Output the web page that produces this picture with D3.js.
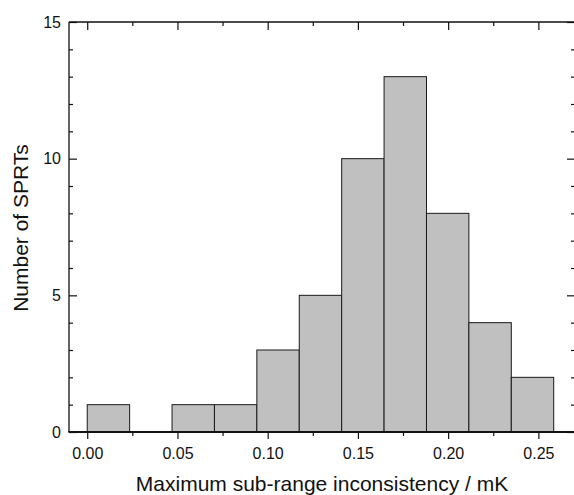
<!DOCTYPE html>
<html>
<head>
<meta charset="utf-8">
<script src="https://cdn.jsdelivr.net/npm/d3@7/dist/d3.min.js"></script>
<style>
  html, body { margin: 0; padding: 0; background: #fff; }
  svg { display: block; }
  text { font-family: Arial, "Liberation Sans", Helvetica, sans-serif; fill: #111; }
</style>
</head>
<body>
<svg id="chart" width="574" height="495"></svg>
<script>
// Data
const binStarts = [0.0000, 0.0235, 0.0470, 0.0705, 0.0940, 0.1175, 0.1410, 0.1645, 0.1880, 0.2115, 0.2350];
const binEnds   = [0.0235, 0.0470, 0.0705, 0.0940, 0.1175, 0.1410, 0.1645, 0.1880, 0.2115, 0.2350, 0.2585];
const counts    = [1, 0, 1, 1, 3, 5, 10, 13, 8, 4, 2];
const xTickValues = [0.00, 0.05, 0.10, 0.15, 0.20, 0.25];
const xMinorValues = [0.025, 0.075, 0.125, 0.175, 0.225];
const yTickValues = [0, 5, 10, 15];
const yMinorValues = [1, 2, 3, 4, 6, 7, 8, 9, 11, 12, 13, 14];
const xTitle = "Maximum sub-range inconsistency / mK";
const yTitle = "Number of SPRTs";

(function () {
const svg = d3.select("#chart");
const L = 69, R = 575, T = 22, B = 432;
const FONT = "Arial, 'Liberation Sans', Helvetica, sans-serif";

const x = d3.scaleLinear().domain([-0.0101, 0.2703]).range([L, R]);
const y = d3.scaleLinear().domain([0, 15]).range([B, T]);

// Bars
svg.append("g").selectAll("rect")
  .data(counts.map((c, i) => ({ x0: binStarts[i], x1: binEnds[i], c })).filter(d => d.c > 0))
  .join("rect")
  .attr("x", d => x(d.x0))
  .attr("width", d => x(d.x1) - x(d.x0))
  .attr("y", d => y(d.c))
  .attr("height", d => y(0) - y(d.c))
  .attr("fill", "#c0c0c0")
  .attr("stroke", "#1a1a1a")
  .attr("stroke-width", 1);

// Axes
const fmt = d3.format(".2f");
svg.append("g").attr("transform", `translate(0,${B})`)
  .call(d3.axisBottom(x).tickValues(xTickValues).tickFormat(fmt).tickSize(7).tickSizeOuter(0).tickPadding(9));
svg.append("g").attr("transform", `translate(0,${B})`)
  .call(d3.axisBottom(x).tickValues(xMinorValues).tickFormat("").tickSize(4).tickSizeOuter(0));
svg.append("g").attr("transform", `translate(0,${T})`)
  .call(d3.axisBottom(x).tickValues(xTickValues).tickFormat("").tickSize(8).tickSizeOuter(0));
svg.append("g").attr("transform", `translate(0,${T})`)
  .call(d3.axisBottom(x).tickValues(xMinorValues).tickFormat("").tickSize(4).tickSizeOuter(0));
svg.append("g").attr("transform", `translate(${L},0)`)
  .call(d3.axisLeft(y).tickValues(yTickValues).tickFormat(d3.format("d")).tickSize(0).tickSizeOuter(0).tickPadding(8));
svg.append("g").attr("transform", `translate(${L},0)`)
  .call(d3.axisRight(y).tickValues(yTickValues).tickFormat("").tickSize(8).tickSizeOuter(0));
svg.append("g").attr("transform", `translate(${L},0)`)
  .call(d3.axisRight(y).tickValues(yMinorValues).tickFormat("").tickSize(4).tickSizeOuter(0));
svg.append("g").attr("transform", `translate(${R},0)`)
  .call(d3.axisLeft(y).tickValues(yTickValues).tickFormat("").tickSize(8).tickSizeOuter(0));
svg.append("g").attr("transform", `translate(${R},0)`)
  .call(d3.axisLeft(y).tickValues(yMinorValues).tickFormat("").tickSize(4).tickSizeOuter(0));

svg.selectAll(".domain").remove();
svg.selectAll("g").attr("font-family", FONT);
svg.selectAll(".tick line").attr("stroke", "#111").attr("stroke-width", 1.2);
svg.selectAll(".tick text").attr("font-size", 16).attr("fill", "#111")
  .attr("font-family", FONT);

// Frame lines
svg.append("line").attr("x1", L).attr("x2", R).attr("y1", T).attr("y2", T).attr("stroke", "#111").attr("stroke-width", 1.3);
svg.append("line").attr("x1", L).attr("x2", L).attr("y1", T).attr("y2", B).attr("stroke", "#111").attr("stroke-width", 1.3);
svg.append("line").attr("x1", R).attr("x2", R).attr("y1", T).attr("y2", B).attr("stroke", "#111").attr("stroke-width", 1.3);
svg.append("line").attr("x1", L - 0.5).attr("x2", R).attr("y1", B).attr("y2", B).attr("stroke", "#111").attr("stroke-width", 2);

// Titles
svg.append("text").attr("x", 322).attr("y", 491).attr("text-anchor", "middle")
  .attr("font-family", FONT).attr("font-size", 21).text(xTitle);
svg.append("text").attr("transform", "translate(28,228) rotate(-90)").attr("text-anchor", "middle")
  .attr("font-family", FONT).attr("font-size", 21).text(yTitle);
})();
</script>
</body>
</html>
